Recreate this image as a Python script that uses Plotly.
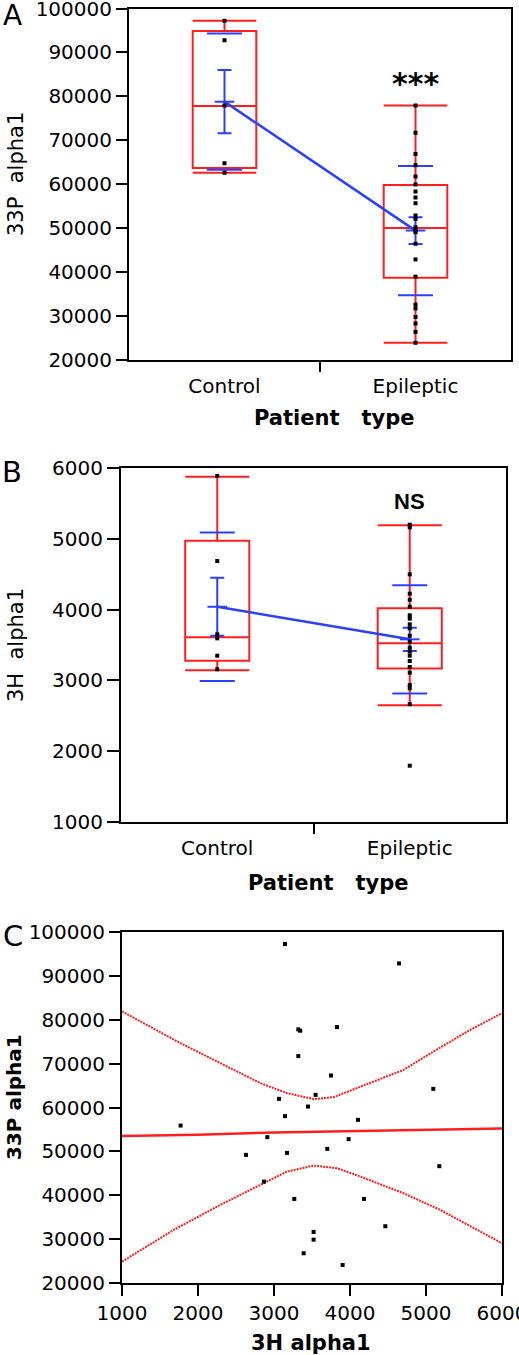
import plotly.graph_objects as go

W, H = 519, 1355
FONT = "DejaVu Sans"
RED = "#ff1e1e"
BLUE = "#2a40ff"

groups = ["Control", "Epileptic"]
group_pos = [0, 1]

# ---------------- Panel A : 33P alpha1 ----------------
a_control = [97200, 92750, 77950, 64800, 62600]
a_epileptic = [77950, 71740, 66910, 64350, 61770, 59960, 58370, 57010, 55650,
               52860, 52110, 50210, 49460, 49100, 46450, 42890, 38970, 32620,
               31720, 29810, 28310, 26410, 23920]
a_q1 = [63700, 38740]
a_median = [77800, 50070]
a_q3 = [94900, 59820]
a_lowerfence = [62600, 23920]
a_upperfence = [97200, 77950]
a_mean = [78800, 49450]
a_sem = [7200, 3060]
a_sd = [15500, 14700]

# ---------------- Panel B : 3H alpha1 ----------------
b_control = [5887, 4686, 3651, 3594, 3349, 3157]
b_epileptic = [5199, 5162, 4498, 4225, 4140, 4041, 3920, 3872, 3792, 3736, 3631,
               3547, 3462, 3407, 3349, 3274, 3189, 3109, 2935, 2888, 2663, 1795]
b_q1 = [3278, 3167]
b_median = [3609, 3524]
b_q3 = [4973, 4018]
b_lowerfence = [3143, 2648]
b_upperfence = [5877, 5190]
b_mean = [4040, 3580]
b_sem = [410, 165]
b_sd = [1050, 765]

# ---------------- Panel C : 33P vs 3H ----------------
c_3h = [3145, 4645, 3320, 3345, 3829, 3320, 3750, 5096, 3547, 3066, 3447, 3145,
        4105, 1771, 2912, 3982, 3701, 3171, 2632, 5175, 2868, 3267, 4184, 4465,
        3521, 3521, 3390, 3903]
c_33p = [97263, 92838, 77800, 77500, 78330, 71715, 67290, 64256, 62888, 61976,
         60219, 58029, 57185, 55885, 53240, 52783, 50570, 49658, 49202, 46624,
         43111, 39165, 39165, 32938, 31637, 29881, 26780, 24110]

fit_x = [1000, 2000, 3000, 4000, 5000, 6000]
fit_y = [53500, 53800, 54300, 54650, 54900, 55200]

ci_x = [1000, 1767, 2293, 2820, 3171, 3522, 3785, 4267, 4706, 5136, 5583, 6000]
ci_upper = [81900, 74680, 70120, 65560, 63280, 61910, 62360, 65560, 68590, 73150, 77710, 81500]
ci_lx = [1000, 1679, 2293, 2864, 3171, 3522, 3829, 4136, 4706, 5188, 5671, 6000]
ci_lower = [24860, 32100, 37800, 42750, 45400, 46760, 46170, 44250, 40450, 36650, 32100, 29060]

fig = go.Figure()


def px_x(p):
    return p / W


def px_y(p):
    return 1 - p / H


def add_group_panel(xa, ya, ctrl, epi, q1, med, q3, lf, uf, mean, sem, sd):
    fig.add_trace(go.Box(
        x=group_pos, q1=q1, median=med, q3=q3, lowerfence=lf, upperfence=uf,
        width=0.333, whiskerwidth=1, boxpoints=False,
        line=dict(color=RED, width=2), fillcolor="rgba(0,0,0,0)",
        xaxis=xa, yaxis=ya, showlegend=False, hoverinfo="skip"))
    # SD ticks
    sd_x = [g for g in group_pos for _ in (0, 1)]
    sd_y = []
    for m, s in zip(mean, sd):
        sd_y += [m + s, m - s]
    fig.add_trace(go.Scatter(
        x=sd_x, y=sd_y, mode="markers",
        marker=dict(symbol="line-ew", size=25, line=dict(color=BLUE, width=2)),
        xaxis=xa, yaxis=ya, showlegend=False))
    # mean + SEM, connecting line
    fig.add_trace(go.Scatter(
        x=group_pos, y=mean, mode="lines+markers",
        line=dict(color=BLUE, width=2.5),
        marker=dict(symbol="line-ew", size=14, line=dict(color=BLUE, width=2)),
        error_y=dict(type="data", array=sem, visible=True, color=BLUE,
                     thickness=2, width=7),
        xaxis=xa, yaxis=ya, showlegend=False))
    # points
    xs = [0] * len(ctrl) + [1] * len(epi)
    fig.add_trace(go.Scatter(
        x=xs, y=ctrl + epi, mode="markers",
        marker=dict(symbol="square", size=4, color="black"),
        xaxis=xa, yaxis=ya, showlegend=False))


add_group_panel("x", "y", a_control, a_epileptic, a_q1, a_median, a_q3,
                a_lowerfence, a_upperfence, a_mean, a_sem, a_sd)
add_group_panel("x2", "y2", b_control, b_epileptic, b_q1, b_median, b_q3,
                b_lowerfence, b_upperfence, b_mean, b_sem, b_sd)

# Panel C traces
fig.add_trace(go.Scatter(x=ci_x, y=ci_upper, mode="lines",
                         line=dict(color=RED, width=2, dash="2px,1px"),
                         xaxis="x3", yaxis="y3", showlegend=False))
fig.add_trace(go.Scatter(x=ci_lx, y=ci_lower, mode="lines",
                         line=dict(color=RED, width=2, dash="2px,1px"),
                         xaxis="x3", yaxis="y3", showlegend=False))
fig.add_trace(go.Scatter(x=fit_x, y=fit_y, mode="lines",
                         line=dict(color=RED, width=2.5),
                         xaxis="x3", yaxis="y3", showlegend=False))
fig.add_trace(go.Scatter(x=c_3h, y=c_33p, mode="markers",
                         marker=dict(symbol="square", size=4, color="black"),
                         xaxis="x3", yaxis="y3", showlegend=False))

tickfont = dict(family=FONT, size=20, color="black")
common = dict(showline=True, mirror=True, linewidth=2, linecolor="black",
              showgrid=False, zeroline=False, tickfont=tickfont, automargin=False,
              ticklabeloverflow="allow",
              ticks="outside", tickwidth=2, tickcolor="black")


def cat_axis(domain, anchor):
    return dict(domain=domain, anchor=anchor, range=[-0.5, 1.5],
                tickmode="array", tickvals=group_pos, ticktext=groups,
                ticklen=7, **{k: v for k, v in common.items() if k != "tickcolor"},
                tickcolor="rgba(0,0,0,0)",
                minor=dict(tickmode="array", tickvals=[0.5], ticks="outside",
                           ticklen=10, tickwidth=2, tickcolor="black"))


fig.update_layout(
    template="none",
    width=W, height=H,
    margin=dict(l=0, r=0, t=0, b=0, autoexpand=False),
    paper_bgcolor="white", plot_bgcolor="white",
    font=dict(family=FONT, color="black"),
    xaxis=cat_axis([px_x(129), px_x(511)], "y"),
    yaxis=dict(domain=[px_y(360), px_y(8.5)], anchor="x", range=[20000, 100000],
               tickmode="linear", tick0=0, dtick=10000, tickformat="d",
               ticklen=11, **common),
    xaxis2=cat_axis([px_x(121), px_x(506)], "y2"),
    yaxis2=dict(domain=[px_y(822), px_y(468)], anchor="x2", range=[1000, 6000],
                tickmode="linear", tick0=0, dtick=1000, tickformat="d",
                ticklen=12, **common),
    xaxis3=dict(domain=[px_x(122), px_x(502)], anchor="y3", range=[1000, 6000],
                tickmode="linear", tick0=0, dtick=1000, tickformat="d",
                ticklen=11, **common),
    yaxis3=dict(domain=[px_y(1283), px_y(932)], anchor="x3", range=[20000, 100000],
                tickmode="linear", tick0=0, dtick=10000, tickformat="d",
                ticklen=11, **common),
)

ann = []


def add_text(text, x, y, size, bold=False, angle=0, xref="paper", yref="paper"):
    ann.append(dict(text=text, x=x, y=y, xref=xref, yref=yref,
                    xanchor="center", yanchor="middle", showarrow=False,
                    textangle=angle,
                    font=dict(family=FONT, size=size, color="black",
                              weight="bold" if bold else "normal")))


nb = "\u00a0"
add_text("A", px_x(12), px_y(16), 28)
add_text("B", px_x(12), px_y(472), 29)
add_text("C", px_x(13), px_y(936), 29)
add_text("33P" + nb * 2 + "alpha1", px_x(16), px_y(174), 21, angle=-90)
add_text("Patient" + nb * 3 + "type", px_x(334), px_y(418), 21, bold=True)
add_text("3H" + nb * 2 + "alpha1", px_x(16), px_y(645), 21, angle=-90)
add_text("Patient" + nb * 3 + "type", px_x(328), px_y(883), 21, bold=True)
add_text("33P alpha1", px_x(14), px_y(1097), 20, bold=True, angle=-90)
add_text("3H alpha1", px_x(311), px_y(1343), 21, bold=True)
ann.append(dict(text="***", x=1, y=83000, xref="x", yref="y", showarrow=False,
                xanchor="center", yanchor="middle",
                font=dict(family=FONT, size=30, color="black", weight="bold")))
ann.append(dict(text="NS", x=1, y=5520, xref="x2", yref="y2", showarrow=False,
                xanchor="center", yanchor="middle",
                font=dict(family="Liberation Sans", size=22, color="black", weight="bold")))
fig.update_layout(annotations=ann)

fig.write_html("out.html", config={"displayModeBar": False},
               post_script="document.body.style.margin='0';document.body.style.overflow='hidden';")
